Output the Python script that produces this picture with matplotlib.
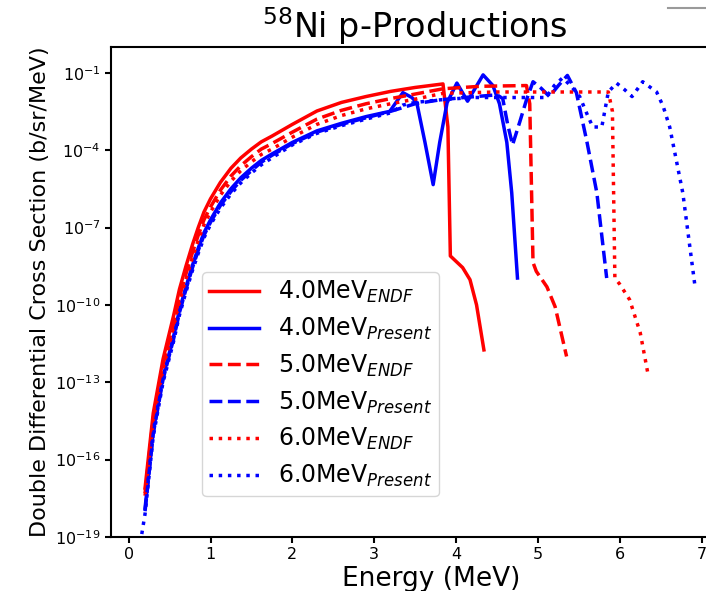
import numpy as np
import matplotlib
matplotlib.use('Agg')
import matplotlib.pyplot as plt
from matplotlib.lines import Line2D
from matplotlib.ticker import NullLocator

# common energy grid of the rising (evaporation) part, MeV
e_rise = [0.2, 0.3, 0.42, 0.55, 0.62, 0.7, 0.78, 0.85, 0.92, 1.0, 1.12, 1.25, 1.37, 1.5, 1.62,
          1.75, 2.0, 2.3, 2.6, 2.9]

# 4.0 MeV, ENDF
e_4_endf = e_rise + [3.2, 3.5, 3.84, 3.90, 3.93, 4.08, 4.17, 4.25, 4.34]
xs_4_endf = [7.9e-18, 6.3e-15, 7.9e-13, 4.0e-11, 4.0e-10, 3.2e-9, 2.2e-8, 1.0e-7, 4.0e-7, 1.3e-6,
             5.6e-6, 2.0e-5, 5.0e-5, 1.1e-4, 2.1e-4, 3.5e-4, 1.0e-3, 3.3e-3, 7.1e-3, 1.2e-2,
             1.9e-2, 2.7e-2, 3.7e-2, 8.0e-4, 7.9e-9, 2.8e-9, 9.5e-10, 1.0e-10, 1.8e-12]

# 4.0 MeV, present work
e_4_pres = e_rise + [3.19, 3.35, 3.46, 3.52, 3.62, 3.72, 3.80, 3.89, 4.01, 4.14, 4.33, 4.45,
                     4.53, 4.62, 4.68, 4.75]
xs_4_pres = [1.3e-18, 1.3e-15, 1.6e-13, 6.3e-12, 6.3e-11, 5.0e-10, 3.5e-9, 1.6e-8, 6.3e-8, 2.0e-7,
             8.9e-7, 3.2e-6, 8.5e-6, 2.0e-5, 4.0e-5, 7.1e-5, 2.0e-4, 5.6e-4, 1.1e-3, 2.0e-3,
             3.2e-3, 1.7e-2, 1.1e-2, 6.9e-3, 2.0e-4, 4.6e-6, 2.0e-4, 6.9e-3, 4.0e-2, 7.9e-3,
             8.3e-2, 3.2e-2, 6.3e-3, 2.0e-4, 2.2e-6, 1.1e-9]

# 5.0 MeV, ENDF
e_5_endf = e_rise + [3.2, 3.5, 3.84, 4.3, 4.86, 4.90, 4.94, 4.98, 5.11, 5.21, 5.35]
xs_5_endf = [5.0e-18, 4.0e-15, 5.0e-13, 2.0e-11, 2.0e-10, 1.6e-9, 1.1e-8, 5.0e-8, 2.0e-7, 6.3e-7,
             2.8e-6, 1.0e-5, 2.5e-5, 5.6e-5, 1.1e-4, 1.8e-4, 5.0e-4, 1.6e-3, 3.5e-3, 6.3e-3,
             1.0e-2, 1.5e-2, 2.4e-2, 3.0e-2, 3.2e-2, 6.3e-3, 4.4e-9, 2.0e-9, 5.0e-10, 8.5e-11,
             1.0e-12]

# 5.0 MeV, present work
e_5_pres = e_rise + [3.2, 3.5, 3.8, 4.1, 4.5, 4.57, 4.63, 4.69, 4.78, 4.86, 4.94, 5.04, 5.14,
                     5.25, 5.36, 5.47, 5.6, 5.72, 5.84]
xs_5_pres = [1.0e-18, 1.0e-15, 1.3e-13, 5.0e-12, 5.0e-11, 4.0e-10, 2.8e-9, 1.3e-8, 5.0e-8, 1.6e-7,
             7.1e-7, 2.5e-6, 6.8e-6, 1.6e-5, 3.4e-5, 6.3e-5, 1.8e-4, 5.0e-4, 1.0e-3, 1.8e-3,
             3.2e-3, 6.3e-3, 8.9e-3, 1.1e-2, 1.4e-2, 1.0e-2, 1.0e-3, 1.6e-4, 1.3e-3, 8.9e-3,
             4.5e-2, 2.5e-2, 1.2e-2, 3.2e-2, 7.9e-2, 1.7e-2, 2.0e-4, 2.2e-6, 1.1e-9]

# 6.0 MeV, ENDF
e_6_endf = e_rise + [3.2, 3.5, 3.84, 4.5, 5.86, 5.91, 5.94, 6.0, 6.12, 6.25, 6.34]
xs_6_endf = [4.0e-18, 3.2e-15, 3.2e-13, 1.3e-11, 1.3e-10, 1.0e-9, 7.1e-9, 3.2e-8, 1.3e-7, 4.0e-7,
             1.8e-6, 6.3e-6, 1.6e-5, 3.5e-5, 6.8e-5, 1.1e-4, 3.2e-4, 1.0e-3, 2.2e-3, 4.0e-3,
             6.3e-3, 9.5e-3, 1.6e-2, 1.8e-2, 1.8e-2, 3.2e-3, 1.1e-9, 6.3e-10, 1.6e-10, 8.3e-12,
             2.5e-13]

# 6.0 MeV, present work
e_6_pres = [0.16] + e_rise + [3.2, 3.35, 3.5, 3.8, 4.2, 5.1, 5.2, 5.3, 5.4, 5.51, 5.6, 5.67,
                              5.78, 5.86, 5.96, 6.06, 6.15, 6.28, 6.45, 6.53, 6.61, 6.77, 6.92]
xs_6_pres = [1.3e-19, 7.9e-19, 7.9e-16, 1.0e-13, 4.0e-12, 4.0e-11, 3.2e-10, 2.2e-9, 1.0e-8,
             4.0e-8, 1.3e-7, 5.6e-7, 2.0e-6, 5.4e-6, 1.3e-5, 2.7e-5, 5.0e-5, 1.6e-4, 4.5e-4,
             8.9e-4, 1.6e-3, 2.8e-3, 5.6e-3, 7.1e-3, 8.9e-3, 1.1e-2, 1.1e-2, 3.2e-2, 6.3e-2,
             3.2e-2, 1.2e-2, 2.5e-3, 7.9e-4, 7.9e-4, 1.8e-2, 4.0e-2, 2.2e-2, 1.2e-2, 4.5e-2,
             1.8e-2, 5.0e-3, 7.9e-4, 2.2e-6, 5.0e-10]

y_ticks = [1e-19, 1e-16, 1e-13, 1e-10, 1e-7, 1e-4, 1e-1]
x_ticks = [0, 1, 2, 3, 4, 5, 6, 7]

fig = plt.figure(figsize=(7.06, 5.91), dpi=100)
# the source picture is cropped on the right, so the axes run past the figure edge
ax = fig.add_axes([111/706, 54/591, 607/706, 490/591])

lw = 2.5
ax.plot(e_4_endf, xs_4_endf, color='red', ls='-', lw=lw, label=r'4.0MeV$_{ENDF}$')
ax.plot(e_4_pres, xs_4_pres, color='blue', ls='-', lw=lw, label=r'4.0MeV$_{Present}$')
ax.plot(e_5_endf, xs_5_endf, color='red', ls='--', lw=lw, label=r'5.0MeV$_{ENDF}$')
ax.plot(e_5_pres, xs_5_pres, color='blue', ls='--', lw=lw, label=r'5.0MeV$_{Present}$')
ax.plot(e_6_endf, xs_6_endf, color='red', ls=':', lw=lw, label=r'6.0MeV$_{ENDF}$')
ax.plot(e_6_pres, xs_6_pres, color='blue', ls=':', lw=lw, label=r'6.0MeV$_{Present}$')

ax.set_yscale('log')
ax.set_xlim(-0.216, 7.2)
ax.set_ylim(1e-19, 1e0)
ax.set_yticks(y_ticks)
ax.set_xticks(x_ticks)
ax.yaxis.set_minor_locator(NullLocator())
ax.tick_params(labelsize=11.5, width=1.5, length=4)
for s in ax.spines.values():
    s.set_linewidth(1.5)

ax.set_xlabel('Energy (MeV)', fontsize=19)
ax.xaxis.set_label_coords(0.527, -0.06, transform=ax.transAxes)
ax.xaxis.label.set_va('top')
ax.set_ylabel('Double Differential Cross Section (b/sr/MeV)', fontsize=16)
ax.set_title(r'$^{58}$Ni p-Productions', fontsize=24)

ax.legend(loc='upper left', bbox_to_anchor=(0.15, 0.541), borderaxespad=0,
          fontsize=17, handlelength=2.1, borderpad=0.3, labelspacing=0.45)

# stray line from the neighbouring panel in the source image
fig.add_artist(Line2D([668/706, 1.0], [1 - 8/591, 1 - 8/591], color='#9a9a9a', lw=1.5))

fig.savefig('out.png', dpi=100)
